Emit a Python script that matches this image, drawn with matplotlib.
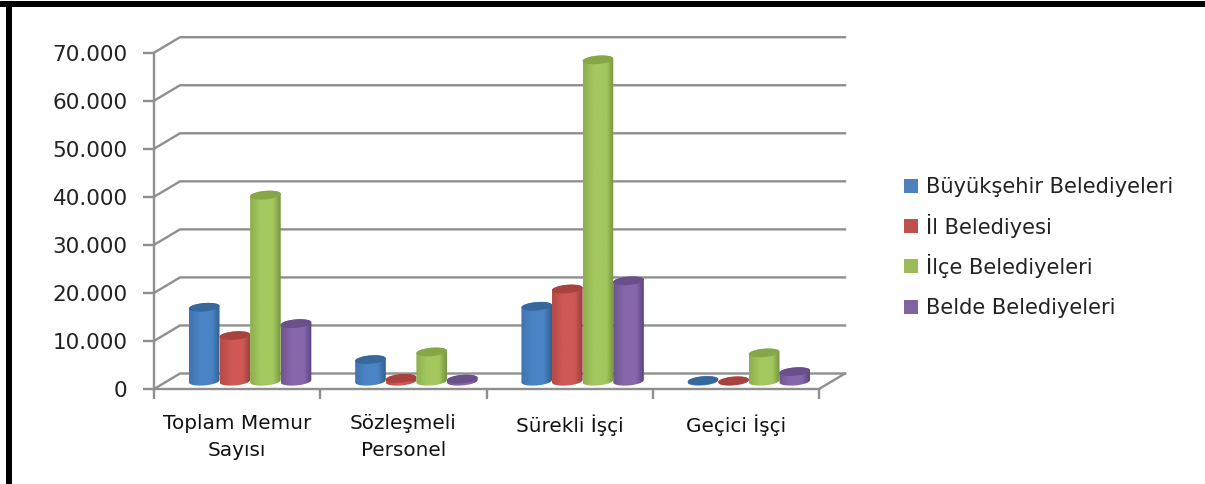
import numpy as np
import matplotlib
matplotlib.use("Agg")
import matplotlib.pyplot as plt
from matplotlib.colors import LinearSegmentedColormap
from matplotlib.patches import PathPatch, Polygon, Rectangle
from matplotlib.path import Path

categories = ["Toplam Memur\nSayısı", "Sözleşmeli\nPersonel", "Sürekli İşçi", "Geçici İşçi"]
series_names = ["Büyükşehir Belediyeleri", "İl Belediyesi", "İlçe Belediyeleri", "Belde Belediyeleri"]
buyuksehir = [15400, 4500, 15600, 150]
il = [9500, 600, 19200, 80]
ilce = [38750, 6100, 66900, 5900]
belde = [12000, 450, 20900, 2000]
y_ticks = [0, 10000, 20000, 30000, 40000, 50000, 60000, 70000]
y_labels = ["0", "10.000", "20.000", "30.000", "40.000", "50.000", "60.000", "70.000"]

W, H = 1205, 484
COLORS = ["#4F81BD", "#C0504D", "#9BBB59", "#8064A2"]
# shades across each cylinder: left edge, lit part, right edge, top cap
SHADES = [
    ("#3F74B0", "#4A84C4", "#32608F", "#37689C"),
    ("#B54A46", "#CE5855", "#963C39", "#A8423E"),
    ("#8DAF4E", "#A4C85E", "#76953F", "#86A648"),
    ("#70558F", "#8767AB", "#5B447F", "#6A508A"),
]
GRID = "#8F8F8F"

# plot box in pixels
LEFT, RIGHT, TOP, BOTTOM = 154, 819, 52.7, 389
DX, DY = 26, 15.5       # depth of the floor

fig = plt.figure(figsize=(W / 100, H / 100), dpi=100, facecolor="white")
ax = fig.add_axes([LEFT / W, 1 - BOTTOM / H, (RIGHT - LEFT) / W, (BOTTOM - TOP) / H])
ax.set_xlim(-0.5, 3.5)
ax.set_ylim(0, 70000)
ax.patch.set_visible(False)

px_x = 4.0 / (RIGHT - LEFT)          # data units per pixel
px_y = 70000 / (BOTTOM - TOP)
depth_x, depth_y = DX * px_x, DY * px_y

for s in ("top", "right"):
    ax.spines[s].set_visible(False)
for s in ("left", "bottom"):
    ax.spines[s].set_color(GRID)
    ax.spines[s].set_linewidth(1.7)

ax.set_yticks(y_ticks, y_labels)
ax.set_xticks(np.arange(-0.5, 4.0, 1.0), [""] * 5)
ax.set_xticks(range(4), categories, minor=True)
ax.tick_params(axis="y", length=8, width=1.7, color=GRID, labelsize=15.5, labelcolor="#222222", pad=11)
ax.tick_params(axis="x", which="major", length=7, width=1.7, color=GRID)
ax.tick_params(axis="x", which="minor", length=0, labelsize=14.4, labelcolor="#111111", pad=18)
for lab in ax.get_xticklabels(minor=True):
    lab.set_linespacing(1.5)

# back wall and side lines
for v in y_ticks:
    ax.plot([-0.5, -0.5 + depth_x, 3.5 + depth_x], [v, v + depth_y, v + depth_y],
            color=GRID, lw=1.7, clip_on=False, zorder=1, solid_joinstyle="miter")
ax.plot([3.5, 3.5 + depth_x], [0, depth_y], color=GRID, lw=1.7, clip_on=False, zorder=1)


def cylinder(xc, width, base, value, shades, z):
    """Cylinder from two tilted ellipses; all sizes in data units."""
    rx = width / 2
    ry = 4.2 * px_y
    tilt = 0.08 * (px_y / px_x)
    t = np.linspace(0, 2 * np.pi, 80)
    ex = rx * np.cos(t)
    ey = ry * np.sin(t) + tilt * ex
    top = base + value
    low = t[t >= np.pi]
    up = t[t <= np.pi]
    lowx = rx * np.cos(low)
    lowy = base + ry * np.sin(low) + tilt * lowx
    upx = rx * np.cos(up)
    upy = top + ry * np.sin(up) + tilt * upx
    body = np.column_stack([np.r_[xc + lowx, xc + upx], np.r_[lowy, upy]])
    patch = PathPatch(Path(np.r_[body, body[:1]], closed=True), fc="none", ec="none",
                      transform=ax.transData)
    ax.add_patch(patch)
    patch.set_clip_on(False)
    cmap = LinearSegmentedColormap.from_list(
        "cyl", [(0, shades[0]), (0.35, shades[1]), (0.75, shades[1]), (1, shades[2])])
    im = ax.imshow(np.linspace(0, 1, 64)[None, :], cmap=cmap, aspect="auto", zorder=z,
                   extent=(xc - rx, xc + rx, base - 3 * ry, top + 3 * ry), interpolation="bilinear")
    im.set_clip_path(patch)
    ax.add_patch(Polygon(np.column_stack([xc + ex, top + ey]), closed=True, fc=shades[3],
                         ec="none", zorder=z + 0.1, clip_on=False))


# bars sit in the middle of the floor depth
all_series = [buyuksehir, il, ilce, belde]
bar_w = 30.6 * px_x
for i, vals in enumerate(all_series):
    for j, v in enumerate(vals):
        xc = j + depth_x / 2 + (i - 1.5) * bar_w
        cylinder(xc, bar_w, depth_y / 2, v, SHADES[i], 3 + i)
ax.set_xlim(-0.5, 3.5)
ax.set_ylim(0, 70000)

# legend by hand: fig.legend spaces the rows unevenly because of the dotted capital İ
legend_rows = [186, 226, 266, 307]
for name, c, row in zip(series_names, COLORS, legend_rows):
    fig.add_artist(Rectangle((904 / W, 1 - (row + 7) / H), 14 / W, 14 / H,
                             transform=fig.transFigure, fc=c, ec="none"))
    fig.text(926 / W, 1 - (row + 7.5) / H, name, fontsize=15.1, color="#222222",
             va="baseline", ha="left")

# black frame of the source page, top and left only
fig.add_artist(Rectangle((0, 1 - 7 / H), 1, 6 / H, transform=fig.transFigure, fc="black", ec="none"))
fig.add_artist(Rectangle((6 / W, 0), 6 / W, 1 - 1 / H, transform=fig.transFigure, fc="black", ec="none"))

fig.savefig("out.png", dpi=100)
plt.close(fig)
